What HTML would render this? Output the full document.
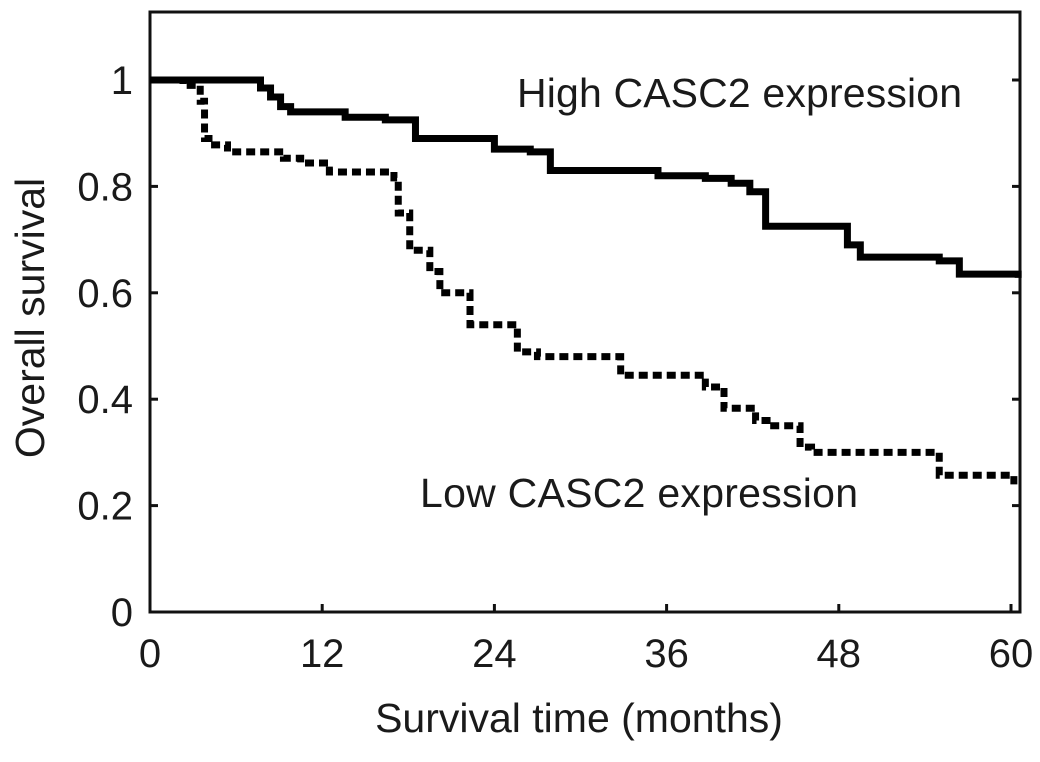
<!DOCTYPE html>
<html><head><meta charset="utf-8"><style>
body{margin:0;background:#fff;}
svg text{font-family:"Liberation Sans",Arial,sans-serif;fill:#1a1a1a;}
</style></head><body>
<svg id="chart" width="1040" height="757" viewBox="0 0 1040 757" xmlns="http://www.w3.org/2000/svg">
<g id="axes"></g>
<g id="series"></g>
<text x="517" y="107" font-size="41" textLength="445">High CASC2 expression</text>
<text x="420" y="507" font-size="41" textLength="438">Low CASC2 expression</text>
<text x="579" y="732" font-size="41" text-anchor="middle">Survival time (months)</text>
<text transform="translate(44,318) rotate(-90)" font-size="41" text-anchor="middle">Overall survival</text>
</svg>
<script>
const xTicks=[0,12,24,36,48,60];
const yTicks=[0,0.2,0.4,0.6,0.8,1];
const yTickLabels=["0","0.2","0.4","0.6","0.8","1"];
const highTimes=[0,7.7,8.4,9.1,9.8,13.6,16.4,18.5,24,26.5,27.9,35.4,38.7,40.5,41.8,42.9,48.6,49.5,55,56.4,60.5];
const highSurv=[1,0.985,0.968,0.95,0.94,0.93,0.925,0.89,0.87,0.865,0.83,0.82,0.815,0.806,0.79,0.725,0.69,0.667,0.66,0.635,0.628];
const lowTimes=[0,2.3,3.5,3.8,4.5,5.4,9.3,10.5,12.5,17,17.3,18.1,19.5,20.2,22.3,25.6,27,32.8,38.7,40,42.2,43,45.3,46.1,55,60.2];
const lowSurv=[1,0.99,0.96,0.89,0.878,0.865,0.853,0.844,0.827,0.816,0.75,0.68,0.64,0.6,0.54,0.489,0.48,0.445,0.423,0.383,0.36,0.35,0.31,0.3,0.257,0.24];
const X0=150,PXM=14.35,Y0=612,PXS=532;
const sx=t=>X0+t*PXM, sy=s=>Y0-s*PXS;
const NS="http://www.w3.org/2000/svg";
const axes=document.getElementById('axes'), ser=document.getElementById('series');
function mk(tag,attrs,parent){const e=document.createElementNS(NS,tag);for(const k in attrs)e.setAttribute(k,attrs[k]);parent.appendChild(e);return e;}
const frame=mk('rect',{x:150,y:12,width:870,height:600,fill:'none',stroke:'#111','stroke-width':3},axes);


xTicks.forEach(t=>{
  const l=mk('line',{x1:sx(t),x2:sx(t),y1:612,y2:604,stroke:'#111','stroke-width':3},axes);
  
  
  const tx=mk('text',{x:sx(t),y:667,'font-size':40,'text-anchor':'middle'},axes);
  tx.textContent=String(t);
  
  
});
yTicks.forEach((v,i)=>{
  const l=mk('line',{x1:150,x2:158,y1:sy(v),y2:sy(v),stroke:'#111','stroke-width':3},axes);
  
  
  const l2=mk('line',{x1:1012,x2:1020,y1:sy(v),y2:sy(v),stroke:'#111','stroke-width':3},axes);
  
  
  const tx=mk('text',{x:133,y:sy(v)+14,'font-size':40,'text-anchor':'end'},axes);
  tx.textContent=yTickLabels[i];
  
  
});
function stepPath(ts,ss){let d='M'+sx(ts[0])+' '+sy(ss[0]);for(let i=1;i<ts.length;i++){d+=' H'+sx(ts[i])+' V'+sy(ss[i]);}return d;}
const hp=mk('path',{d:stepPath(highTimes,highSurv),fill:'none',stroke:'#000','stroke-width':7},ser);


const lp=mk('path',{d:stepPath(lowTimes,lowSurv),fill:'none',stroke:'#000','stroke-width':7,'stroke-dasharray':'9 5'},ser);


</script>
</body></html>
